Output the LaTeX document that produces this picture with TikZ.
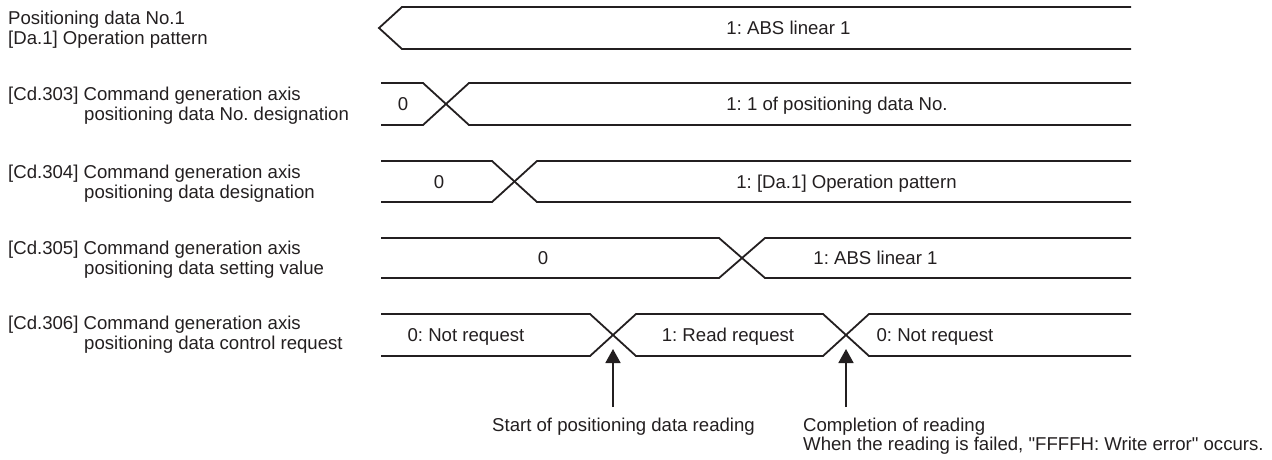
\documentclass[tikz,border=0pt]{standalone}
\usepackage{fontspec}
\setmainfont{Liberation Sans}[Ligatures=TeXOff]
\usetikzlibrary{arrows.meta}
\definecolor{ink}{HTML}{231F20}
\frenchspacing
\begin{document}
\frenchspacing
\begin{tikzpicture}[x=1pt,y=-1pt,
  wave/.style={draw=ink, line width=1.8pt, line join=miter},
  lbl/.style={anchor=base west, inner sep=0pt, text=ink, font=\fontsize{18.6}{19.5}\selectfont\frenchspacing},
  val/.style={anchor=base, inner sep=0pt, text=ink, font=\fontsize{18.6}{19.5}\selectfont\frenchspacing},
  marker/.style={draw=ink, line width=1.8pt, -{Triangle[length=14pt,width=15pt]}}]
\useasboundingbox (0,0) rectangle (1272,459);

% ---- row labels
\node[lbl] (l1a) at (8,24.5) {Positioning data No.1};
\node[lbl] (l1b) at (8,44.5) {[Da.1] Operation pattern};
\node[lbl] (l2a) at (8,100.5) {[Cd.303] Command generation axis};
\node[lbl] (l2b) at (84,120.5) {positioning data No. designation};
\node[lbl] (l3a) at (8,178) {[Cd.304] Command generation axis};
\node[lbl] (l3b) at (84,198) {positioning data designation};
\node[lbl] (l4a) at (8,254.5) {[Cd.305] Command generation axis};
\node[lbl] (l4b) at (84,274.5) {positioning data setting value};
\node[lbl] (l5a) at (8,329.5) {[Cd.306] Command generation axis};
\node[lbl] (l5b) at (84,349.5) {positioning data control request};

% ---- row 1
\draw[wave] (1131,7) -- (402,7) -- (379,28) -- (402,49) -- (1131,49);
\node[val] (v1) at (788.5,34.6) {1: ABS linear 1};

% ---- row 2
\draw[wave] (381,83) -- (423,83) -- (469,125) -- (1131,125);
\draw[wave] (381,125) -- (423,125) -- (469,83) -- (1131,83);
\node[val] (v2a) at (403,110.6) {0};
\node[val] (v2b) at (837,110.6) {1: 1 of positioning data No.};

% ---- row 3
\draw[wave] (381,161) -- (492,161) -- (537,202) -- (1131,202);
\draw[wave] (381,202) -- (492,202) -- (537,161) -- (1131,161);
\node[val] (v3a) at (439,188) {0};
\node[val] (v3b) at (846.5,188) {1: [Da.1] Operation pattern};

% ---- row 4
\draw[wave] (381,238) -- (719,238) -- (765,278) -- (1131,278);
\draw[wave] (381,278) -- (719,278) -- (765,238) -- (1131,238);
\node[val] (v4a) at (543,264.6) {0};
\node[val] (v4b) at (875.5,264.6) {1: ABS linear 1};

% ---- row 5
\draw[wave] (381,314) -- (590,314) -- (636,356) -- (823,356) -- (869,314) -- (1131,314);
\draw[wave] (381,356) -- (590,356) -- (636,314) -- (823,314) -- (869,356) -- (1131,356);
\node[val] (v5a) at (466,341.6) {0: Not request};
\node[val] (v5b) at (728,341.6) {1: Read request};
\node[val] (v5c) at (935,341.6) {0: Not request};

% ---- markers
\coordinate (s1) at (613,407);
\coordinate (t1) at (613,349);
\coordinate (s2) at (846,407);
\coordinate (t2) at (846,349);
\draw[marker] (s1) -- (t1);
\draw[marker] (s2) -- (t2);

\node[val] (n1) at (623.5,431.5) {Start of positioning data reading};
\node[lbl] (n2a) at (803,431.5) {Completion of reading};
\node[lbl] (n2b) at (803,450.5) {When the reading is failed, "FFFFH: Write error" occurs.};
\end{tikzpicture}
\end{document}
